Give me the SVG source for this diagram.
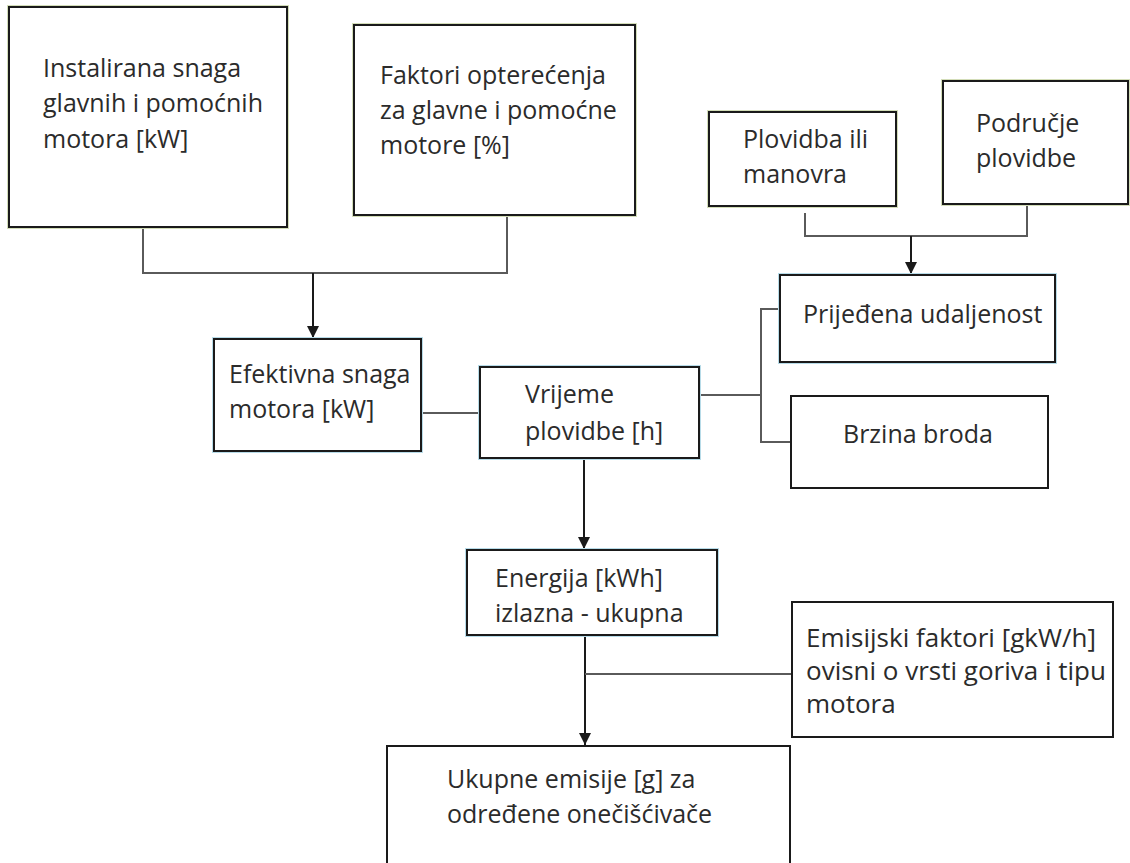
<svg xmlns="http://www.w3.org/2000/svg" width="1130" height="863" viewBox="0 0 1130 863">
<defs>
<style>
.box{fill:#fff;stroke:#1a1a1a;stroke-width:2}
.g{fill:none;stroke:#d3ddb8;stroke-width:4}
.b{fill:none;stroke:#b7dbe8;stroke-width:4}
.t{font-family:"Open Sans","Noto Sans","Liberation Sans",sans-serif;font-size:25px;fill:#2b2b2b}
.e{font-size:26px}
.ln{fill:none;stroke:#5a5a5a;stroke-width:2}
.ar{fill:none;stroke:#1a1a1a;stroke-width:2;marker-end:url(#ah)}
</style>
<marker id="ah" viewBox="0 0 10 10" refX="10" refY="5" markerWidth="12" markerHeight="12" markerUnits="userSpaceOnUse" orient="auto">
<path d="M0,0 L10,5 L0,10 z" fill="#1a1a1a"/>
</marker>
</defs>
<rect width="1130" height="863" fill="#fff"/>
<g id="connectors">
<polyline class="ln" points="143,227 143,273 507,273 507,215"/>
<line class="ar" x1="313" y1="273" x2="313" y2="338"/>
<polyline class="ln" points="805,213 805,236 1027,236 1027,205"/>
<line class="ar" x1="911" y1="236" x2="911" y2="274"/>
<line class="ln" x1="421" y1="413" x2="480" y2="413"/>
<line class="ln" x1="699" y1="395" x2="761" y2="395"/>
<polyline class="ln" points="780,309 761,309 761,442 791,442"/>
<line class="ar" x1="584" y1="458" x2="584" y2="549"/>
<line class="ar" x1="585" y1="635" x2="585" y2="745"/>
<line class="ln" x1="585" y1="674" x2="792" y2="674"/>
</g>
<g id="n-instalirana">
<rect class="g" x="9" y="7" width="278" height="220"/>
<rect class="box" x="9" y="7" width="278" height="220"/>
<text class="t"><tspan x="43" y="77">Instalirana snaga</tspan><tspan x="43" y="112">glavnih i pomoćnih</tspan><tspan x="43" y="148">motora [kW]</tspan></text>
</g>
<g id="n-faktori">
<rect class="g" x="354" y="25" width="281" height="190"/>
<rect class="box" x="354" y="25" width="281" height="190"/>
<text class="t"><tspan x="380" y="84">Faktori opterećenja</tspan><tspan x="380" y="119">za glavne i pomoćne</tspan><tspan x="380" y="154">motore [%]</tspan></text>
</g>
<g id="n-plovidba">
<rect class="g" x="709" y="112" width="187" height="94"/>
<rect class="box" x="709" y="112" width="187" height="94"/>
<text class="t"><tspan x="743" y="148">Plovidba ili</tspan><tspan x="743" y="183">manovra</tspan></text>
</g>
<g id="n-podrucje">
<rect class="g" x="943" y="81" width="185" height="123"/>
<rect class="box" x="943" y="81" width="185" height="123"/>
<text class="t"><tspan x="976" y="132">Područje</tspan><tspan x="976" y="167">plovidbe</tspan></text>
</g>
<g id="n-prijedena">
<rect class="b" x="780" y="275" width="275" height="87"/>
<rect class="box" x="780" y="275" width="275" height="87"/>
<text class="t" x="803" y="323">Prijeđena udaljenost</text>
</g>
<g id="n-brzina">
<rect class="box" x="791" y="396" width="257" height="92"/>
<text class="t" x="843" y="443">Brzina broda</text>
</g>
<g id="n-efektivna">
<rect class="b" x="214" y="339" width="207" height="112"/>
<rect class="box" x="214" y="339" width="207" height="112"/>
<text class="t"><tspan x="229" y="383">Efektivna snaga</tspan><tspan x="229" y="418">motora [kW]</tspan></text>
</g>
<g id="n-vrijeme">
<rect class="b" x="480" y="367" width="219" height="91"/>
<rect class="box" x="480" y="367" width="219" height="91"/>
<text class="t"><tspan x="525" y="403">Vrijeme</tspan><tspan x="525" y="440">plovidbe [h]</tspan></text>
</g>
<g id="n-energija">
<rect class="b" x="467" y="550" width="250" height="85"/>
<rect class="box" x="467" y="550" width="250" height="85"/>
<text class="t"><tspan x="495" y="587">Energija [kWh]</tspan><tspan x="495" y="622">izlazna - ukupna</tspan></text>
</g>
<g id="n-emisijski">
<rect class="box" x="792" y="602" width="321" height="135"/>
<text class="t e"><tspan x="806" y="647">Emisijski faktori [gkW/h]</tspan><tspan x="806" y="680">ovisni o vrsti goriva i tipu</tspan><tspan x="806" y="713">motora</tspan></text>
</g>
<g id="n-ukupne">
<rect class="box" x="387" y="746" width="403" height="130"/>
<text class="t"><tspan x="447" y="788">Ukupne emisije [g] za</tspan><tspan x="447" y="823">određene onečišćivače</tspan></text>
</g>
</svg>
